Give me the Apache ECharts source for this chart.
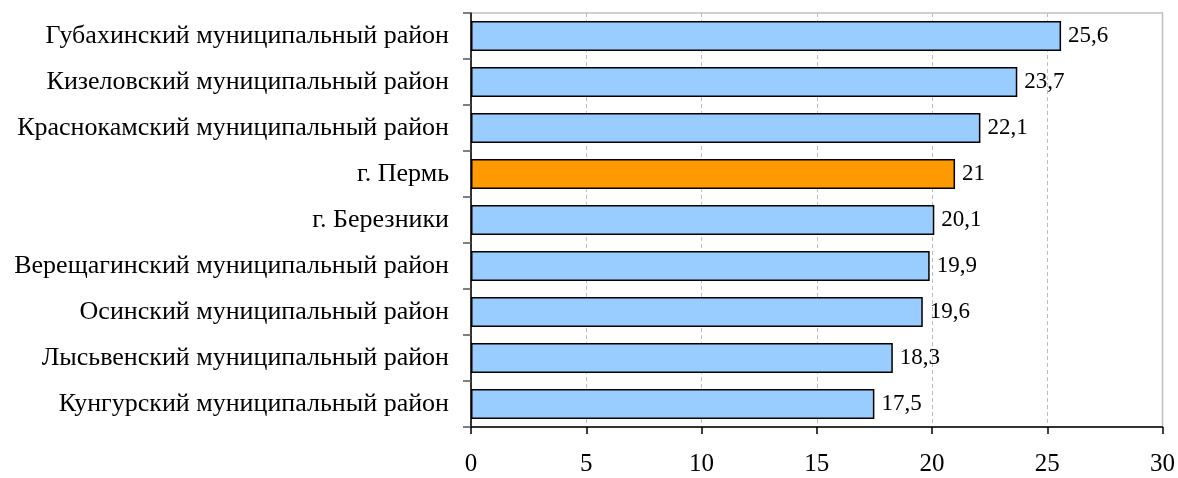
<!DOCTYPE html>
<html><head><meta charset="utf-8">
<script src="https://cdn.jsdelivr.net/npm/echarts@6/dist/echarts.min.js"></script>
<style>html,body{margin:0;padding:0;background:#fff}#c{width:1178px;height:478px}</style>
</head><body><div id="c"></div>
<script>
var categories = ["Губахинский муниципальный район","Кизеловский муниципальный район","Краснокамский муниципальный район","г. Пермь","г. Березники","Верещагинский муниципальный район","Осинский муниципальный район","Лысьвенский муниципальный район","Кунгурский муниципальный район"];
var values = [25.6, 23.7, 22.1, 21, 20.1, 19.9, 19.6, 18.3, 17.5];
var highlight = "г. Пермь";
var xTicks = [0, 5, 10, 15, 20, 25, 30];

var chart = echarts.init(document.getElementById('c'), null, {renderer:'canvas'});
var font = "'Liberation Serif','Times New Roman',serif";
chart.setOption({
  animation:false,
  grid:{left:471,right:14,top:13,bottom:51,show:true,borderColor:'#c0c0c0',borderWidth:1.5,containLabel:false},
  xAxis:{type:'value',min:xTicks[0],max:xTicks[xTicks.length-1],interval:5,
    axisLine:{show:true,lineStyle:{color:'#000',width:1.5}},
    axisTick:{show:true,length:7,lineStyle:{color:'#000',width:1.5}},
    axisLabel:{color:'#000',fontFamily:font,fontSize:25,margin:25},
    splitLine:{show:true,lineStyle:{color:'#bdbdbd',type:[4,3],width:1}}},
  yAxis:{type:'category',data:categories,inverse:true,
    axisLine:{show:true,lineStyle:{color:'#000',width:1.5}},
    axisTick:{show:true,length:8,lineStyle:{color:'#555',width:1.5}},
    axisLabel:{color:'#000',fontFamily:font,fontSize:26,margin:22}},
  series:[{type:'bar',barWidth:30,
    data:values.map(function(v,i){return {value:v,itemStyle:{color:categories[i]===highlight?'#FF9900':'#99CCFF'}};}),
    itemStyle:{borderColor:'#000',borderWidth:1.5},
    label:{show:true,position:'right',distance:7,color:'#000',fontFamily:font,fontSize:23,
      formatter:function(p){return String(p.value).replace('.',',');}}}]
});
</script></body></html>
